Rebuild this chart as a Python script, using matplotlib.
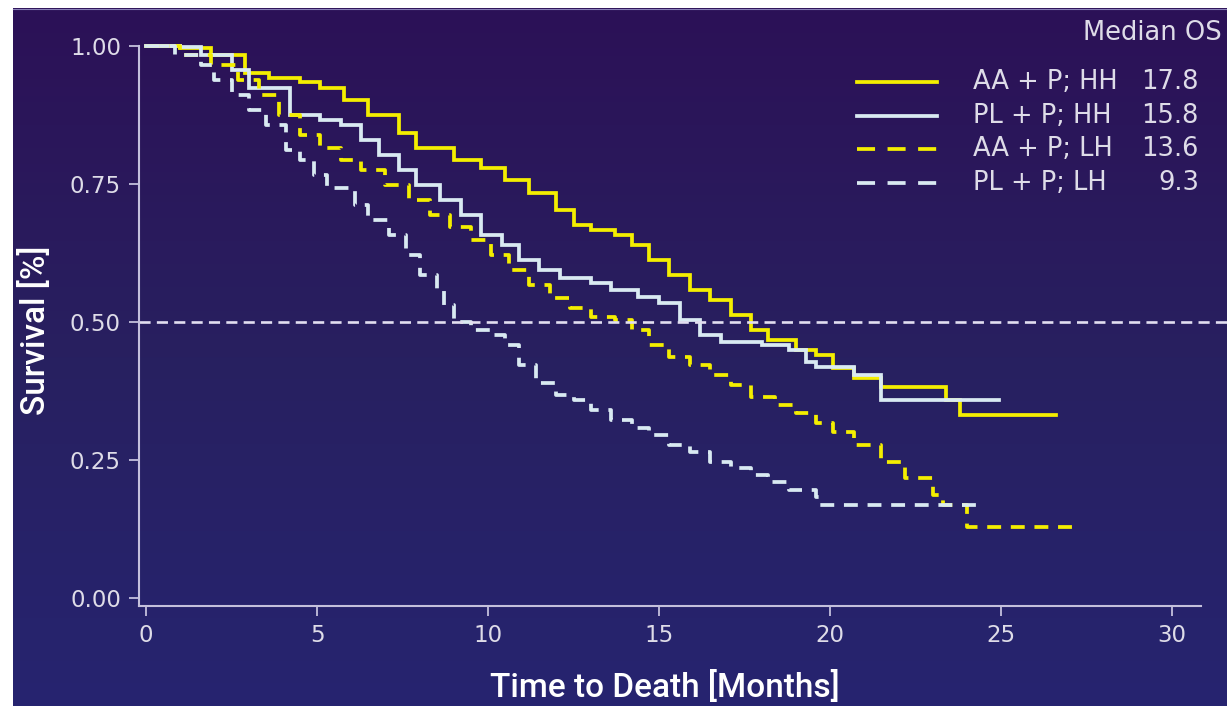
import numpy as np
import matplotlib
matplotlib.use("Agg")
import matplotlib.pyplot as plt
from matplotlib.lines import Line2D
from matplotlib.colors import LinearSegmentedColormap

plt.rcParams['font.family'] = ['DejaVu Sans']
plt.rcParams['lines.scale_dashes'] = False

# ---------------- data ----------------
labels = ["AA + P; HH", "PL + P; HH", "AA + P; LH", "PL + P; LH"]
median_os = ["17.8", "15.8", "13.6", "9.3"]

t_aa_hh = [0, 1.0, 1.9, 2.9, 3.6, 4.5, 5.1, 5.8, 6.5, 7.4, 7.9, 8.5, 9.0, 9.8, 10.5, 11.2, 12.0, 12.5,
           13.0, 13.7, 14.2, 14.7, 15.3, 15.9, 16.5, 17.1, 17.7, 18.2, 19.0, 19.6, 20.1, 20.7, 21.5,
           23.4, 23.8, 26.6]
s_aa_hh = [1.0, 0.996, 0.984, 0.951, 0.942, 0.935, 0.924, 0.902, 0.875, 0.842, 0.815, 0.815, 0.793,
           0.779, 0.757, 0.734, 0.703, 0.676, 0.667, 0.658, 0.639, 0.612, 0.585, 0.558, 0.540, 0.513,
           0.486, 0.467, 0.449, 0.440, 0.417, 0.399, 0.382, 0.359, 0.332, 0.332]

t_pl_hh = [0, 1.0, 1.6, 2.5, 3.0, 4.2, 5.1, 5.7, 6.3, 6.8, 7.4, 7.9, 8.6, 9.2, 9.8, 10.4, 10.9, 11.5,
           12.1, 13.0, 13.6, 14.4, 15.0, 15.6, 16.2, 16.8, 18.0, 18.8, 19.3, 19.6, 20.7, 21.5, 24.95]
s_pl_hh = [1.0, 0.998, 0.984, 0.956, 0.924, 0.875, 0.866, 0.857, 0.830, 0.803, 0.775, 0.748, 0.721,
           0.694, 0.658, 0.639, 0.612, 0.594, 0.580, 0.571, 0.558, 0.545, 0.534, 0.504, 0.476, 0.464,
           0.458, 0.449, 0.428, 0.418, 0.404, 0.359, 0.359]

t_aa_lh = [0, 1.0, 1.9, 2.7, 3.3, 3.9, 4.5, 5.1, 5.7, 6.3, 7.0, 7.7, 8.3, 8.9, 9.5, 10.1, 10.6, 11.2,
           11.8, 12.4, 13.0, 13.7, 14.2, 14.7, 15.3, 15.9, 16.5, 17.1, 17.7, 18.4, 19.0, 19.6, 20.1,
           20.7, 21.5, 22.2, 23.0, 23.3, 24.0, 27.1]
s_aa_lh = [1.0, 0.984, 0.966, 0.938, 0.911, 0.875, 0.839, 0.815, 0.793, 0.775, 0.748, 0.721, 0.694,
           0.672, 0.649, 0.621, 0.594, 0.567, 0.543, 0.525, 0.509, 0.504, 0.486, 0.458, 0.437, 0.422,
           0.404, 0.386, 0.364, 0.350, 0.335, 0.317, 0.301, 0.277, 0.246, 0.217, 0.187, 0.168, 0.129,
           0.129]

t_pl_lh = [0, 0.85, 1.6, 2.0, 2.5, 3.0, 3.5, 4.1, 4.5, 4.9, 5.3, 5.9, 6.1, 6.5, 7.1, 7.6, 8.0, 8.5,
           8.7, 9.0, 9.5, 10.1, 10.5, 10.9, 11.4, 12.0, 12.5, 13.0, 13.6, 14.2, 14.7, 15.3, 15.9, 16.5,
           17.1, 17.7, 18.2, 18.8, 19.6, 19.7, 24.3]
s_pl_lh = [1.0, 0.984, 0.966, 0.938, 0.911, 0.884, 0.857, 0.812, 0.793, 0.766, 0.743, 0.743, 0.712,
           0.685, 0.658, 0.621, 0.585, 0.558, 0.531, 0.500, 0.486, 0.476, 0.458, 0.422, 0.389, 0.368,
           0.359, 0.341, 0.322, 0.308, 0.295, 0.277, 0.264, 0.246, 0.236, 0.223, 0.210, 0.196, 0.183,
           0.168, 0.168]

x_ticks = [0, 5, 10, 15, 20, 25, 30]
y_ticks = [0.00, 0.25, 0.50, 0.75, 1.00]

# ---------------- style ----------------
W, H = 1227, 706
YELLOW = "#f4ee00"
LIGHT = "#d9eaf2"
AXCOL = "#c4c0dc"
TXT = "#dedce8"
dash_curve = (0, (10, 7))
styles = [
    dict(color=YELLOW, ls='-'),
    dict(color=LIGHT, ls='-'),
    dict(color=YELLOW, ls=dash_curve),
    dict(color=LIGHT, ls=dash_curve),
]
series = [(t_aa_hh, s_aa_hh), (t_pl_hh, s_pl_hh), (t_aa_lh, s_aa_lh), (t_pl_lh, s_pl_lh)]

fig = plt.figure(figsize=(W / 100, H / 100), dpi=100, facecolor='white')


def fx(x):
    return x / W


def fy(y):
    return 1 - y / H


# background gradient panel
bg = fig.add_axes([fx(13), 0, 1 - fx(13), fy(8)])
cmap = LinearSegmentedColormap.from_list("bg", ["#2c1157", "#282060", "#262470"])
grad = np.linspace(0, 1, 256).reshape(-1, 1)
bg.imshow(grad, aspect='auto', cmap=cmap, extent=[0, 1, 0, 1], origin='upper')
bg.set_axis_off()
fig.add_artist(Line2D([fx(13), 1], [fy(8.5), fy(8.5)], color="#8a7fb8", lw=0.8))

# main axes: x=0 at px 146, 34.2 px / month; y=0 at px 598, 552 px / unit
ax_left, ax_right, ax_top, ax_bottom = 139, 1227, 20, 606
ax = fig.add_axes([fx(ax_left), fy(ax_bottom), fx(ax_right) - fx(ax_left), fy(ax_top) - fy(ax_bottom)])
ax.set_facecolor('none')
ax.set_xlim((ax_left - 146) / 34.2, (ax_right - 146) / 34.2)
ax.set_ylim((598 - ax_bottom) / 552, (598 - ax_top) / 552)

for (t, s), st in zip(series, styles):
    ax.step(t, s, where='post', color=st['color'], linestyle=st['ls'], lw=2.7,
            solid_joinstyle='miter', dash_capstyle='butt')

ax.axhline(0.5, color="#e2def0", lw=1.9, linestyle=(0, (8, 4.5)))

for side in ['top', 'right']:
    ax.spines[side].set_visible(False)
ax.spines['left'].set_bounds((598 - ax_bottom) / 552, 1.0)
ax.spines['bottom'].set_bounds((ax_left - 146) / 34.2, (1201 - 146) / 34.2)
for side in ['left', 'bottom']:
    ax.spines[side].set_color(AXCOL)
    ax.spines[side].set_linewidth(1.5)

ax.set_xticks(x_ticks)
ax.set_yticks(y_ticks)
ax.set_yticklabels([f"{v:.2f}" for v in y_ticks])
ax.tick_params(axis='both', colors=AXCOL, labelcolor=TXT, labelsize=16.5, width=1.3, length=7, pad=6)

fig.text(fx(665), fy(688), "Time to Death [Months]", color="white", fontsize=24,
         fontweight='medium', family=['Roboto', 'DejaVu Sans'], ha='center', va='center')
fig.text(fx(35), fy(330), "Survival [%]", color="white", fontsize=24, fontweight='medium',
         family=['Roboto', 'DejaVu Sans'], rotation=90, ha='center', va='center')

# legend
fig.text(fx(1222), fy(33), "Median OS", color=TXT, fontsize=18.5, ha='right', va='center')
rows = [82, 116, 149, 183]
for y, lab, med, st in zip(rows, labels, median_os, styles):
    ls = st['ls'] if st['ls'] == '-' else (0, (13, 9))
    fig.add_artist(Line2D([fx(857), fx(937)], [fy(y), fy(y)], color=st['color'], lw=2.7,
                          linestyle=ls, dash_capstyle='butt'))
    fig.text(fx(973), fy(y), lab, color=TXT, fontsize=18.5, ha='left', va='center')
    fig.text(fx(1199), fy(y), med, color=TXT, fontsize=18.5, ha='right', va='center')

fig.savefig("out.png", dpi=100, facecolor=fig.get_facecolor())
